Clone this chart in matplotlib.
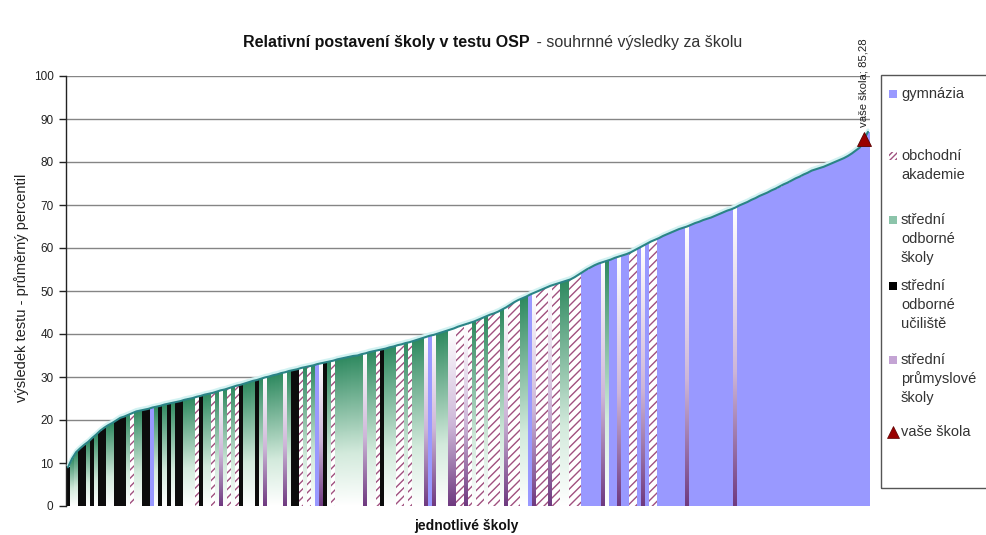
import matplotlib
matplotlib.use('Agg')
import numpy as np
import matplotlib.pyplot as plt
from matplotlib.colors import LinearSegmentedColormap
from matplotlib.patches import Rectangle
from matplotlib.lines import Line2D

plt.rcParams['font.family'] = ['Liberation Sans', 'DejaVu Sans']
plt.rcParams['hatch.linewidth'] = 1.0

# ---------------- data ----------------
values = [
    9.0, 11.0, 12.5, 13.4, 14.2, 14.9, 15.8, 16.6, 17.5, 18.2,
    18.8, 19.3, 19.9, 20.5, 20.8, 21.2, 21.6, 22.0, 22.2, 22.4,
    22.6, 22.9, 23.1, 23.3, 23.6, 23.8, 24.0, 24.2, 24.4, 24.7,
    24.9, 25.1, 25.4, 25.6, 25.9, 26.1, 26.3, 26.6, 26.9, 27.1,
    27.4, 27.7, 28.0, 28.2, 28.5, 28.8, 29.1, 29.3, 29.6, 29.9,
    30.1, 30.4, 30.6, 30.9, 31.1, 31.4, 31.6, 31.8, 32.1, 32.3,
    32.5, 32.7, 33.0, 33.2, 33.4, 33.6, 33.8, 34.1, 34.3, 34.5,
    34.7, 34.9, 35.0, 35.3, 35.5, 35.8, 36.0, 36.2, 36.4, 36.6,
    36.9, 37.1, 37.4, 37.6, 37.9, 38.1, 38.4, 38.7, 39.0, 39.3,
    39.6, 39.8, 40.1, 40.4, 40.7, 41.0, 41.3, 41.7, 42.0, 42.3,
    42.6, 42.9, 43.3, 43.7, 44.1, 44.5, 44.8, 45.2, 45.7, 46.2,
    46.8, 47.4, 47.9, 48.3, 48.7, 49.2, 49.6, 50.0, 50.4, 50.8,
    51.2, 51.5, 51.8, 52.1, 52.4, 52.7, 53.2, 53.8, 54.4, 55.0,
    55.5, 56.0, 56.4, 56.7, 57.0, 57.3, 57.7, 58.0, 58.3, 58.6,
    59.0, 59.5, 60.0, 60.5, 61.0, 61.5, 61.9, 62.3, 62.8, 63.2,
    63.6, 64.0, 64.4, 64.7, 65.0, 65.4, 65.8, 66.1, 66.5, 66.8,
    67.1, 67.5, 67.9, 68.3, 68.7, 69.0, 69.4, 69.9, 70.3, 70.7,
    71.2, 71.6, 72.1, 72.5, 72.9, 73.4, 73.8, 74.3, 74.8, 75.2,
    75.7, 76.2, 76.6, 77.1, 77.5, 78.0, 78.3, 78.6, 78.9, 79.3,
    79.7, 80.1, 80.5, 80.9, 81.4, 82.0, 82.7, 83.4, 85.28, 87.0,
]

# G = gymnázia, O = obchodní akademie, S = střední odborné školy,
# U = střední odborné učiliště, P = střední průmyslové školy
school_types = list(
    "USSUUSUSUU" "SSUUUSOSSU" "UGSUSUSUUS" "SSOUSSOSPS"
    "OSOUSSSUSP" "SSSSPSUUOS" "OSGPUSOSSS" "SSSSPSSOUS"
    "SSOOSOSSSP" "GPSSSPPOOP" "OSOOSOOOSP" "OOOSSGPOOO"
    "POOSSOOOGG" "GGGPSGGPGG" "OOGPGOOGGG" "GGGGPGGGGG"
    "GGGGGGPGGG" "GGGGGGGGGG" "GGGGGGGGGG" "GGGGGGGGGG"
)

your_school_index = 198
your_school_value = 85.28

y_ticks = list(range(0, 101, 10))

legend_labels = {
    'G': ['gymnázia'],
    'O': ['obchodní', 'akademie'],
    'S': ['střední', 'odborné', 'školy'],
    'U': ['střední', 'odborné', 'učiliště'],
    'P': ['střední', 'průmyslové', 'školy'],
    'Y': ['vaše škola'],
}

# ---------------- figure ----------------
W, H = 987, 535
fig = plt.figure(figsize=(W / 100, H / 100), dpi=100)


def fx(x):
    return x / W


def fy(y):
    return 1 - y / H


ax = fig.add_axes([fx(66), fy(506), fx(870) - fx(66), fy(76) - fy(506)])

cmaps = {
    'S': LinearSegmentedColormap.from_list(
        's', [(0.0, '#ffffff'), (0.35, '#d3eadc'), (1.0, '#2f8a60')]),
    'P': LinearSegmentedColormap.from_list(
        'p', [(0.0, '#6f3a80'), (0.45, '#cdb6d8'), (1.0, '#ffffff')]),
}
grad = np.linspace(0, 1, 128).reshape(-1, 1)

for i, (v, t) in enumerate(zip(values, school_types)):
    if t == 'G':
        ax.bar(i, v, width=1.0, color='#9999ff', linewidth=0,
               antialiased=False, zorder=2)
    elif t == 'U':
        ax.bar(i, v, width=1.0, color='#0c0c0c', linewidth=0,
               antialiased=False, zorder=2)
    elif t == 'O':
        ax.bar(i, v, width=1.0, facecolor='#ffffff', edgecolor='#a0507f',
               hatch='////', linewidth=0, zorder=2)
    else:
        ax.imshow(grad, extent=(i - 0.5, i + 0.5, 0, v), cmap=cmaps[t],
                  aspect='auto', origin='lower', zorder=2,
                  interpolation='bilinear')

xs = np.arange(len(values))
vals = np.array(values)
ax.plot(xs, vals + 0.45, color='#d2f2f2', lw=2.2, zorder=3,
        solid_capstyle='round')
ax.plot(xs, vals, color='#2a8486', lw=1.5, zorder=4, solid_capstyle='round')

ax.plot([your_school_index], [your_school_value], marker='^', ms=10,
        color='#990000', mec='#5a0000', mew=0.6, zorder=6, clip_on=False,
        linestyle='none')
ax.annotate('vaše škola; 85,28', xy=(your_school_index, your_school_value),
            xytext=(0, 9), textcoords='offset points', rotation=90,
            ha='center', va='bottom', fontsize=8.2, color='#222222',
            annotation_clip=False)

ax.set_xlim(-0.5, len(values) - 0.5)
ax.set_ylim(0, 100)
ax.set_yticks(y_ticks)
ax.set_xticks([])
ax.tick_params(axis='y', labelsize=8.5, length=5, width=1, pad=4,
               colors='#222222')
ax.yaxis.grid(True, color='#858585', lw=1.0)
ax.set_axisbelow(True)
for s in ['top', 'right', 'bottom']:
    ax.spines[s].set_visible(False)
ax.spines['left'].set_color('#222222')
ax.spines['left'].set_linewidth(1.0)

# titles
renderer = fig.canvas.get_renderer()
t1 = fig.text(fx(243), fy(43), 'Relativní postavení školy v testu OSP',
              fontsize=11.5, weight='bold', va='center', ha='left',
              color='#111111')
bb = t1.get_window_extent(renderer)
fig.text(bb.x1 / W + 2 / W, fy(43), ' - souhrnné výsledky za školu',
         fontsize=11.5, va='center', ha='left', color='#333333')

fig.text(fx(466), fy(526), 'jednotlivé školy', fontsize=10, weight='bold',
         ha='center', va='center', color='#111111')
fig.text(fx(22), fy(288), 'výsledek testu - průměrný percentil', fontsize=10.5,
         rotation=90, ha='center', va='center', color='#222222')

# legend (manual)
fig.add_artist(Rectangle((fx(881), fy(488)), fx(1000) - fx(881),
                         fy(75) - fy(488), transform=fig.transFigure,
                         fill=False, ec='#555555', lw=1.0))

legend_rows = [('G', [94]), ('O', [156, 175]), ('S', [220, 239, 258]),
               ('U', [286, 305, 324]), ('P', [360, 379, 398]), ('Y', [432])]
sw = {'G': dict(facecolor='#9999ff'),
      'O': dict(facecolor='#ffffff', edgecolor='#a0507f', hatch='//////', lw=0),
      'S': dict(facecolor='#8cc4aa'),
      'U': dict(facecolor='#000000'),
      'P': dict(facecolor='#c4a4d4')}
for key, ys in legend_rows:
    y0 = ys[0]
    if key == 'Y':
        fig.add_artist(Line2D([fx(893)], [fy(y0)], marker='^', ms=8,
                              color='#990000', mec='#5a0000', mew=0.5,
                              transform=fig.transFigure, linestyle='none'))
    else:
        kw = dict(sw[key])
        kw.setdefault('lw', 0)
        fig.add_artist(Rectangle((fx(889), fy(y0 + 4)), 8 / W, 8 / H,
                                 transform=fig.transFigure, **kw))
    for line, yy in zip(legend_labels[key], ys):
        fig.text(fx(901), fy(yy), line, fontsize=10.5, va='center', ha='left',
                 color='#333333')

fig.savefig('out.png', dpi=100)
